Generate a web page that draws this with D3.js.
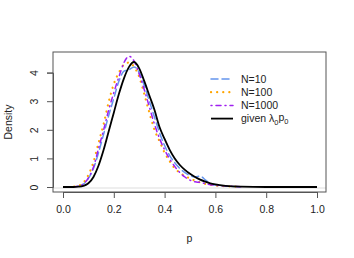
<!DOCTYPE html>
<html>
<head>
<meta charset="utf-8">
<script src="https://cdn.jsdelivr.net/npm/d3@7"></script>
<style>
  body { margin: 0; background: #fff; }
  text { font-family: "Liberation Sans", Arial, sans-serif; fill: #222; }
</style>
</head>
<body>
<div id="chart"></div>
<script>
var svgWidth = 354;
var svgHeight = 258;

// density curves
var pGrid = [0.02, 0.04, 0.06, 0.08, 0.1, 0.12, 0.14, 0.16, 0.18, 0.2, 0.22, 0.24, 0.26, 0.28, 0.3,
  0.32, 0.34, 0.36, 0.38, 0.4, 0.42, 0.44, 0.46, 0.48, 0.5, 0.52, 0.54, 0.56, 0.58, 0.6, 0.64, 0.7];
var n10 = [0, 0.01, 0.03, 0.1, 0.3, 0.65, 1.2, 1.85, 2.5, 3.1, 3.7, 4.05, 4.1, 4.2, 4.0,
  3.55, 3.0, 2.45, 1.9, 1.45, 1.1, 0.85, 0.65, 0.5, 0.4, 0.36, 0.38, 0.25, 0.12, 0.07, 0.03, 0.01];
var n100 = [0, 0.01, 0.04, 0.15, 0.42, 0.88, 1.55, 2.2, 2.98, 3.6, 4.0, 4.28, 4.35, 4.2, 3.85,
  3.25, 2.6, 2.0, 1.6, 1.2, 0.9, 0.65, 0.5, 0.38, 0.3, 0.22, 0.16, 0.11, 0.08, 0.05, 0.03, 0.01];
var n1000 = [0, 0.01, 0.03, 0.1, 0.32, 0.7, 1.35, 2.0, 2.7, 3.3, 3.85, 4.35, 4.57, 4.4, 3.95,
  3.4, 2.8, 2.2, 1.7, 1.3, 0.98, 0.72, 0.5, 0.35, 0.24, 0.18, 0.16, 0.12, 0.08, 0.06, 0.04, 0.01];

var pGiven = [0, 0.04, 0.06, 0.08, 0.1, 0.12, 0.14, 0.16, 0.18, 0.2, 0.22, 0.24, 0.26, 0.28, 0.3,
  0.32, 0.34, 0.36, 0.38, 0.4, 0.42, 0.44, 0.46, 0.48, 0.5, 0.52, 0.54, 0.56, 0.58, 0.6, 0.64, 0.7, 0.8, 0.9, 1.0];
var given = [0, 0, 0.01, 0.04, 0.13, 0.35, 0.75, 1.3, 1.95, 2.6, 3.25, 3.8, 4.2, 4.37, 4.15,
  3.7, 3.2, 2.7, 2.1, 1.68, 1.3, 1.0, 0.77, 0.6, 0.46, 0.35, 0.26, 0.19, 0.13, 0.09, 0.04, 0.01, 0, 0, 0];

var xTicks = [0, 0.2, 0.4, 0.6, 0.8, 1.0];
var yTicks = [0, 1, 2, 3, 4];

var series = [
  { label: "N=10", xs: pGrid, ys: n10, color: "#6495ED", width: 1.5, dash: "7,4" },
  { label: "N=100", xs: pGrid, ys: n100, color: "#FFA500", width: 2.2, dash: "0.1,6" },
  { label: "N=1000", xs: pGrid, ys: n1000, color: "#A020F0", width: 1.5, dash: "1,4,5,4" },
  { label: "given", xs: pGiven, ys: given, color: "#000", width: 1.8, dash: null }
];

var box = { left: 53, right: 326, top: 52, bottom: 192 };

var svg = d3.select("#chart")
  .append("svg")
  .attr("width", svgWidth)
  .attr("height", svgHeight);

var xScale = d3.scaleLinear().domain([0, 1]).range([63, 317]);
var yScale = d3.scaleLinear().domain([0, 4]).range([187, 72.6]);

// faint zero line
svg.append("line")
  .attr("x1", box.left).attr("x2", box.right)
  .attr("y1", yScale(0) + 1).attr("y2", yScale(0) + 1)
  .attr("stroke", "#ddd").attr("stroke-width", 1);

var line = d3.line()
  .x(d => xScale(d[0]))
  .y(d => yScale(d[1]))
  .curve(d3.curveMonotoneX);

series.forEach(function(s) {
  svg.append("path")
    .datum(s.xs.map((x, i) => [x, s.ys[i]]))
    .attr("d", line)
    .attr("fill", "none")
    .attr("stroke", s.color)
    .attr("stroke-width", s.width)
    .attr("stroke-dasharray", s.dash)
    .attr("stroke-linecap", s.dash ? "round" : "butt");
});

svg.append("rect")
  .attr("x", box.left).attr("y", box.top)
  .attr("width", box.right - box.left).attr("height", box.bottom - box.top)
  .attr("fill", "none").attr("stroke", "#555").attr("stroke-width", 1);

var xAxis = d3.axisBottom(xScale).tickValues(xTicks).tickSize(6).tickPadding(8)
  .tickFormat(d3.format(".1f"));
var gx = svg.append("g").attr("transform", `translate(0,${box.bottom})`).call(xAxis);
gx.select(".domain").attr("stroke", "#555");
gx.selectAll(".tick line").attr("stroke", "#555");
gx.selectAll("text").attr("font-size", 10.5).attr("font-family", "Liberation Sans, Arial, sans-serif").attr("fill", "#222");

var yAxis = d3.axisLeft(yScale).tickValues(yTicks).tickSize(6).tickPadding(0)
  .tickFormat(d3.format("d"));
var gy = svg.append("g").attr("transform", `translate(${box.left},0)`).call(yAxis);
gy.select(".domain").attr("stroke", "#555");
gy.selectAll(".tick line").attr("stroke", "#555");
gy.selectAll("text")
  .attr("font-size", 10.5).attr("font-family", "Liberation Sans, Arial, sans-serif").attr("fill", "#222")
  .attr("x", null)
  .attr("text-anchor", "middle")
  .attr("transform", "translate(-19,0) rotate(-90)")
  .attr("dy", "0.35em");

svg.append("text")
  .attr("transform", `translate(12,${(box.top + box.bottom) / 2}) rotate(-90)`)
  .attr("text-anchor", "middle")
  .attr("font-size", 10.5)
  .text("Density");

svg.append("text")
  .attr("x", (box.left + box.right) / 2)
  .attr("y", 242)
  .attr("text-anchor", "middle")
  .attr("font-size", 10.5)
  .text("p");

// legend
var legend = svg.append("g");
series.forEach(function(s, i) {
  var y = 79 + i * 13.2;
  legend.append("line")
    .attr("x1", 211).attr("x2", 233)
    .attr("y1", y).attr("y2", y)
    .attr("stroke", s.color)
    .attr("stroke-width", s.width)
    .attr("stroke-dasharray", s.dash)
    .attr("stroke-linecap", s.dash ? "round" : "butt");
  var t = legend.append("text")
    .attr("x", 241).attr("y", y).attr("dy", "0.35em")
    .attr("font-size", 10.5);
  if (s.label === "given") {
    t.append("tspan").text("given \u03bb");
    t.append("tspan").attr("font-size", 7.5).attr("dy", "0.3em").text("0");
    t.append("tspan").attr("dy", "-0.3em").text("p");
    t.append("tspan").attr("font-size", 7.5).attr("dy", "0.3em").text("0");
  } else {
    t.text(s.label);
  }
});
</script>
</body>
</html>
